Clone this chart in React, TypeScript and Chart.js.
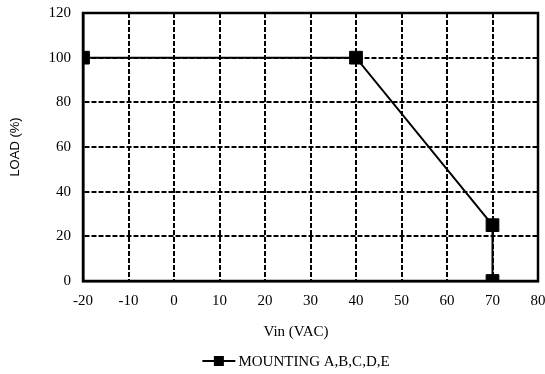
import React, { useEffect, useRef } from "react";
import { Chart, registerables } from "chart.js";

Chart.register(...registerables);

const vinValues = [-20, 40, 70, 70];
const loadValues = [100, 100, 25, 0];
const seriesLabel = "MOUNTING A,B,C,D,E";
const xTitle = "Vin (VAC)";
const yTitle = "LOAD (%)";
const xMin = -20;
const xMax = 80;
const xStep = 10;
const yMin = 0;
const yMax = 120;
const yStep = 20;

const SERIF = '"Liberation Serif", "Times New Roman", serif';
const SANS = '"Liberation Sans", Arial, sans-serif';

const framePlugin = {
  id: "frame",
  beforeDatasetsDraw(chart: any) {
    const { ctx, chartArea } = chart;
    ctx.save();
    ctx.strokeStyle = "#000";
    ctx.lineWidth = 2.5;
    ctx.setLineDash([]);
    ctx.strokeRect(chartArea.left, chartArea.top, chartArea.right - chartArea.left, chartArea.bottom - chartArea.top);
    ctx.restore();
  },
};

const legendPlugin = {
  id: "customLegend",
  afterDraw(chart: any) {
    const ctx = chart.ctx;
    ctx.save();
    ctx.font = "15px " + SERIF;
    ctx.fillStyle = "#000";
    ctx.textBaseline = "middle";
    ctx.textAlign = "center";
    const cx = 296;
    ctx.fillText(xTitle, cx, 332);
    const tw = ctx.measureText(seriesLabel).width;
    const lineW = 33;
    const gap = 3;
    const total = lineW + gap + tw;
    const y = 361;
    const x0 = cx - total / 2;
    ctx.strokeStyle = "#000";
    ctx.lineWidth = 2;
    ctx.beginPath();
    ctx.moveTo(x0, y);
    ctx.lineTo(x0 + lineW, y);
    ctx.stroke();
    ctx.fillRect(x0 + lineW / 2 - 5, y - 5, 10, 10);
    ctx.textAlign = "left";
    ctx.fillText(seriesLabel, x0 + lineW + gap, y + 1);
    ctx.restore();
  },
};

export default function App() {
  const ref = useRef<HTMLCanvasElement | null>(null);
  useEffect(() => {
    if (!ref.current) return;
    const points = vinValues.map((x, i) => ({ x, y: loadValues[i] }));
    const chart = new Chart(ref.current, {
      type: "line",
      data: {
        datasets: [
          {
            label: seriesLabel,
            data: points,
            borderColor: "#000",
            backgroundColor: "#000",
            borderWidth: 2,
            pointStyle: "rect",
            pointRadius: 9,
            pointBorderWidth: 1,
            pointBackgroundColor: "#000",
            pointBorderColor: "#000",
            tension: 0,
          },
        ],
      },
      options: {
        responsive: false,
        animation: false,
        layout: { padding: { top: 13, right: 0, bottom: 29, left: 0 } },
        plugins: { legend: { display: false }, tooltip: { enabled: false } },
        scales: {
          x: {
            type: "linear",
            min: xMin,
            max: xMax,
            ticks: { stepSize: xStep, color: "#000", font: { family: SERIF, size: 15 }, padding: 11 },
            grid: { color: "#000", lineWidth: 2, drawTicks: false },
            border: { color: "#000", width: 2.5, dash: [5, 2] },
            title: { display: false, text: xTitle },
            afterFit(scale: any) {
              scale.height = 64;
              scale.paddingLeft = 0;
              scale.paddingRight = 0;
            },
          },
          y: {
            min: yMin,
            max: yMax,
            ticks: { stepSize: yStep, color: "#000", font: { family: SERIF, size: 15 }, padding: 12 },
            grid: { color: "#000", lineWidth: 2, drawTicks: false },
            border: { color: "#000", width: 2.5, dash: [5, 2] },
            title: { display: true, text: yTitle, color: "#000", font: { family: SANS, size: 13 }, padding: { top: 8, bottom: 0 } },
            afterFit(scale: any) {
              scale.width = 83;
              scale.paddingTop = 0;
              scale.paddingBottom = 0;
            },
          },
        },
      },
      plugins: [framePlugin, legendPlugin],
    });
    return () => chart.destroy();
  }, []);
  return (
    <div style={{ position: "absolute", left: 0, top: 0, width: 545, height: 374, overflow: "hidden", background: "#fff" }}>
      <canvas ref={ref} width={548} height={374} />
    </div>
  );
}
